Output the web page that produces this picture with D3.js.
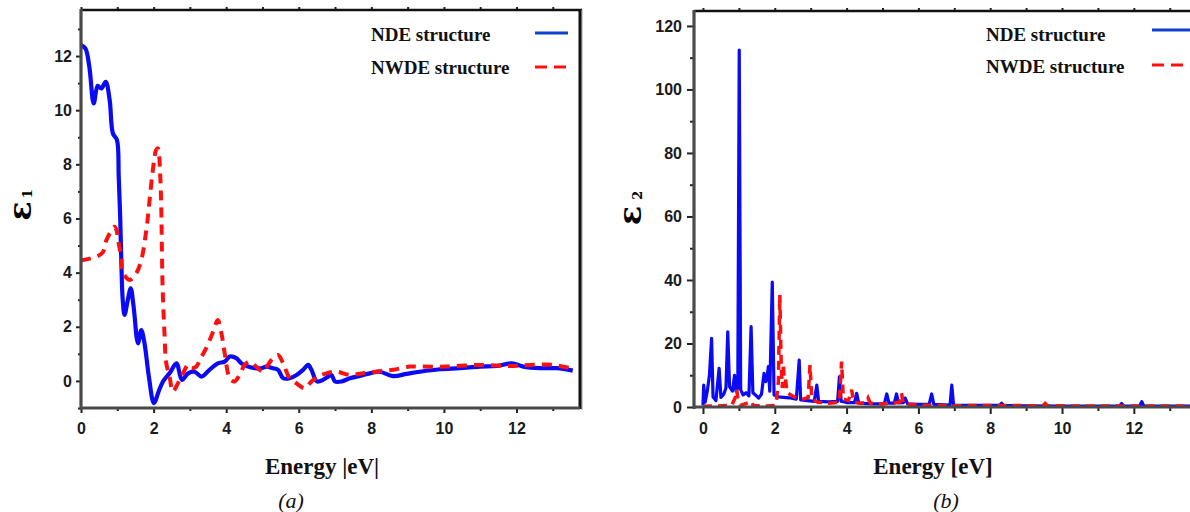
<!DOCTYPE html>
<html><head><meta charset="utf-8">
<script src="https://cdn.jsdelivr.net/npm/d3@7"></script>
<style>
html,body{margin:0;padding:0;background:#fff;}
svg{display:block;}
.tick text{font-family:"Liberation Sans",Arial,sans-serif;font-weight:bold;font-size:16px;fill:#1a1a1a;}
</style></head>
<body>
<svg id="c" width="1190" height="512"></svg>
<script>
// ---------- DATA ----------
// Panel (a): real part epsilon_1
const e1NdeEnergy = [0,0.12,0.23,0.35,0.46,0.56,0.68,0.79,0.88,0.99,1.04,1.08,1.11,1.15,1.2,1.29,1.37,1.45,1.57,1.66,1.75,1.87,2.01,2.14,2.26,2.44,2.63,2.78,2.95,3.13,3.32,3.54,3.77,3.96,4.1,4.28,4.42,4.6,4.79,4.97,5.11,5.29,5.43,5.57,5.75,5.94,6.12,6.26,6.35,6.5,6.67,6.81,6.9,7.0,7.18,7.41,7.68,7.96,8.23,8.6,8.97,9.34,9.89,10.44,10.99,11.45,11.87,12.19,12.65,13.11,13.55];
const e1Nde = [12.4,12.28,11.6,10.25,10.9,10.8,11.05,10.37,9.14,8.9,7.54,6.06,4.46,2.99,2.44,2.99,3.42,2.74,1.39,1.88,1.39,0.16,-0.82,-0.39,-0.02,0.28,0.65,0.04,0.28,0.34,0.16,0.41,0.65,0.71,0.9,0.84,0.65,0.53,0.47,0.47,0.53,0.47,0.41,0.1,0.1,0.22,0.41,0.59,0.41,-0.02,0.04,0.16,0.22,-0.02,-0.02,0.1,0.18,0.28,0.34,0.18,0.26,0.34,0.43,0.47,0.53,0.55,0.65,0.53,0.47,0.47,0.38];
const e1NwdeEnergy = [0,0.42,0.6,0.7,0.92,0.97,1.05,1.11,1.15,1.34,1.52,1.66,1.8,1.89,1.98,2.07,2.12,2.18,2.21,2.23,2.25,2.3,2.35,2.44,2.53,2.67,2.81,2.95,3.04,3.18,3.27,3.45,3.64,3.77,3.87,3.96,4.1,4.23,4.37,4.51,4.65,4.83,5.02,5.15,5.29,5.43,5.57,5.75,5.94,6.17,6.35,6.53,6.76,7.04,7.41,7.77,8.14,8.6,9.06,9.34,10.07,10.99,11.82,12.37,13.01,13.48];
const e1Nwde = [4.45,4.59,4.75,5.2,5.69,5.6,5.0,4.59,4.03,3.73,3.97,4.46,5.57,6.68,7.79,8.52,8.59,7.66,6.5,4.8,3.4,1.76,0.65,0.16,-0.39,-0.09,0.28,0.59,0.47,0.53,0.77,1.21,1.82,2.25,1.76,1.02,0.1,-0.02,0.22,0.59,0.71,0.53,0.34,0.59,0.84,0.96,0.65,0.1,-0.09,-0.27,-0.02,0.16,0.28,0.34,0.22,0.28,0.34,0.41,0.53,0.53,0.53,0.59,0.55,0.59,0.59,0.47];

// Panel (b): imaginary part epsilon_2
const e2NdeEnergy = [0,0.02,0.06,0.12,0.18,0.24,0.28,0.36,0.45,0.5,0.58,0.64,0.69,0.74,0.82,0.88,0.92,0.97,1.01,1.05,1.12,1.2,1.28,1.34,1.39,1.46,1.55,1.63,1.7,1.75,1.78,1.82,1.86,1.93,1.98,2.1,2.4,2.6,2.68,2.72,2.9,3.1,3.17,3.22,3.5,3.75,3.8,3.85,4.0,4.22,4.28,4.34,4.7,5.05,5.12,5.18,5.33,5.39,5.45,5.58,5.63,5.7,6.0,6.3,6.37,6.43,6.88,6.93,6.98,7.5,8.27,8.32,8.37,9.0,10.0,11.6,11.66,11.72,12.16,12.22,12.28,13.0,13.8];
const e2Nde = [0.5,6.9,1.5,5,10,21.6,3.2,2,12.2,3,4,6,23.7,6.4,5,10,5,6,112.4,5.4,3.8,4.5,3.5,25.3,4.5,3.8,2.8,4,10.6,8,9,12.7,5,39.3,3.8,3.2,2.9,2.5,14.8,2.2,2.0,1.8,6.9,1.8,1.6,1.8,9.5,1.8,1.4,1.4,4.3,1.2,1.0,1.0,4.1,1.2,1.2,4.1,1.3,1.4,2.8,1.0,0.8,0.9,4.1,0.8,0.6,6.9,0.6,0.5,0.6,1.2,0.5,0.4,0.3,0.3,1.1,0.3,0.3,1.7,0.3,0.3,0.3];
const e2NwdeEnergy = [0,0.3,0.8,0.9,0.94,0.98,1.05,1.3,1.35,1.4,1.8,2.0,2.05,2.1,2.14,2.18,2.21,2.24,2.27,2.3,2.34,2.45,2.6,2.8,2.93,2.98,3.03,3.2,3.5,3.8,3.86,3.91,4.05,4.14,4.2,4.4,4.55,4.6,4.66,5.0,5.3,5.48,5.53,5.58,6.0,7.0,8.0,9.47,9.53,9.6,11,13.8];
const e2Nwde = [0.2,0.3,0.5,3,5.4,2,0.5,1.5,1.8,0.5,0.3,0.5,2.5,8,35.3,12.7,6,13.6,6.1,8.8,4.5,3.8,2.8,2.5,3,13.2,2.5,1.5,1.2,1.5,14.3,2.5,2.0,5.4,1.5,1.2,1.5,2.8,1.2,1.0,1.2,1.5,4.3,1.0,0.6,0.4,0.5,0.4,1.1,0.4,0.3,0.3];

const seriesNames = ["NDE structure","NWDE structure"];
const leftMajorX = [0,2,4,6,8,10,12], leftMinorX = [1,3,5,7,9,11,13];
const leftMajorY = [0,2,4,6,8,10,12], leftMinorY = [-1,1,3,5,7,9,11,13];
const rightMajorX = [0,2,4,6,8,10,12], rightMinorX = [1,3,5,7,9,11,13];
const rightMajorY = [0,20,40,60,80,100,120], rightMinorY = [10,30,50,70,90,110];

// ---------- DRAW ----------
const svg = d3.select("#c");
const BLUE = "#0a0af5", RED = "#ff1010";

function panel(o){
  const g = svg.append("g");
  const x = d3.scaleLinear().domain(o.xd).range([o.L, o.R]);
  const y = d3.scaleLinear().domain(o.yd).range([o.B, o.T]);
  const cid = "clip"+o.id;
  svg.append("defs").append("clipPath").attr("id",cid)
    .append("rect").attr("x",o.L).attr("y",o.T).attr("width",o.R-o.L).attr("height",o.B-o.T);

  // top faint ticks
  g.append("g").attr("transform",`translate(0,${o.T})`)
    .call(d3.axisTop(x).tickValues(d3.range(0,14,1)).tickSize(3).tickFormat(""))
    .call(s=>s.select(".domain").remove())
    .call(s=>s.selectAll("line").attr("stroke","#bbb"));

  // curves
  const line = d3.line().x(d=>x(d[0])).y(d=>y(d[1])).curve(o.curve);
  const cg = g.append("g").attr("clip-path",`url(#${cid})`);
  cg.append("path").datum(d3.zip(o.x1,o.y1)).attr("d",line)
    .attr("fill","none").attr("stroke",BLUE).attr("stroke-width",o.w1).attr("stroke-linejoin","round");
  cg.append("path").datum(d3.zip(o.x2,o.y2)).attr("d",line)
    .attr("fill","none").attr("stroke",RED).attr("stroke-width",o.w2).attr("stroke-dasharray",o.dash);

  // axes
  const bx = g.append("g").attr("transform",`translate(0,${o.B})`);
  bx.call(d3.axisBottom(x).tickValues(o.mx).tickSize(o.maj).tickPadding(o.padX).tickFormat(d3.format("d")));
  bx.append("g").call(d3.axisBottom(x).tickValues(o.nx).tickSize(o.min).tickFormat(""));
  bx.selectAll(".domain").remove();
  const ly = g.append("g").attr("transform",`translate(${o.L},0)`);
  ly.call(d3.axisLeft(y).tickValues(o.my).tickSize(o.maj).tickPadding(o.padY).tickFormat(d3.format("d")));
  ly.append("g").call(d3.axisLeft(y).tickValues(o.ny).tickSize(o.min).tickFormat(""));
  ly.selectAll(".domain").remove();
  g.selectAll(".tick line").attr("stroke","#222").attr("stroke-width",2);

  // frame
  g.append("line").attr("x1",o.L).attr("x2",o.R+2).attr("y1",o.T).attr("y2",o.T).attr("stroke","#111").attr("stroke-width",2.5);
  if(o.rightBorder){
    g.append("line").attr("x1",o.R+2).attr("x2",o.R+2).attr("y1",o.T).attr("y2",o.B+2).attr("stroke","#ccc").attr("stroke-width",2);
    g.append("line").attr("x1",o.R).attr("x2",o.R).attr("y1",o.T-1).attr("y2",o.B+1).attr("stroke","#111").attr("stroke-width",3);
  }
  g.append("line").attr("x1",o.L).attr("x2",o.L).attr("y1",o.T-1).attr("y2",o.B+2).attr("stroke","#4a4a4a").attr("stroke-width",3.2);
  g.append("line").attr("x1",o.L-1).attr("x2",o.R).attr("y1",o.B).attr("y2",o.B).attr("stroke","#4a4a4a").attr("stroke-width",3.2);

  // legend
  const lg = g.append("g").attr("font-family","'Liberation Serif','Times New Roman',serif").attr("font-weight","bold").attr("font-size",19).attr("fill","#111");
  lg.append("text").attr("x",o.lgX).attr("y",o.lgY1+7).text(seriesNames[0]);
  lg.append("text").attr("x",o.lgX).attr("y",o.lgY2+7).text(seriesNames[1]);
  g.append("line").attr("x1",o.lsX1).attr("x2",o.lsX2).attr("y1",o.lsY1).attr("y2",o.lsY1).attr("stroke","#1040d0").attr("stroke-width",3);
  g.append("line").attr("x1",o.lsX1).attr("x2",o.lsX2).attr("y1",o.lsY2).attr("y2",o.lsY2).attr("stroke",RED).attr("stroke-width",3).attr("stroke-dasharray","12,7");

  // y-axis title (rotated epsilon with subscript)
  const yt = svg.append("text").attr("transform",`translate(${o.ytX},${o.ytY}) rotate(-90)`)
    .attr("font-family","'DejaVu Serif','Liberation Serif',serif").attr("font-weight","bold").attr("font-size",32).attr("fill","#000")
    .attr("text-anchor","middle").attr("dominant-baseline","middle");
  yt.append("tspan").text("ε");
  yt.append("tspan").attr("font-size",13).attr("dy",o.subDy).attr("dx",o.subDx).text(o.sub);

  // x-axis title and panel label
  svg.append("text").attr("x",o.xtX).attr("y",474).attr("text-anchor","middle")
    .attr("font-family","'Liberation Serif','Times New Roman',serif").attr("font-weight","bold").attr("font-size",23).attr("fill","#111").text(o.xTitle);
  svg.append("text").attr("x",o.plX).attr("y",508).attr("text-anchor","middle")
    .attr("font-family","'Liberation Serif','Times New Roman',serif").attr("font-style","italic").attr("font-size",22).attr("fill","#111").text(o.pl);
}

panel({id:"a", L:81, R:580, T:10, B:408, xd:[0,13.75], yd:[-1,13.7],
  x1:e1NdeEnergy, y1:e1Nde, x2:e1NwdeEnergy, y2:e1Nwde, curve:d3.curveCatmullRom.alpha(0.5),
  w1:4.2, w2:4, dash:"10,7",
  mx:leftMajorX, nx:leftMinorX, my:leftMajorY, ny:leftMinorY, maj:5, min:3, padX:10, padY:4,
  rightBorder:true,
  lgX:371, lgY1:34, lgY2:67, lsX1:535, lsX2:568, lsY1:33, lsY2:67,
  ytX:22, ytY:205, sub:"1", subDy:6, subDx:3,
  xTitle:"Energy |eV|", xtX:322, pl:"(a)", plX:291});

panel({id:"b", L:694, R:1192, T:11, B:407, xd:[-0.25,13.62], yd:[0,124.7],
  x1:e2NdeEnergy, y1:e2Nde, x2:e2NwdeEnergy, y2:e2Nwde, curve:d3.curveLinear,
  w1:3.2, w2:3.5, dash:"9,6",
  mx:rightMajorX, nx:rightMinorX, my:rightMajorY, ny:rightMinorY, maj:7, min:4, padX:9, padY:5,
  rightBorder:false,
  lgX:986, lgY1:34, lgY2:66, lsX1:1152, lsX2:1192, lsY1:30, lsY2:65,
  ytX:632, ytY:208, sub:"2", subDy:6, subDx:6,
  xTitle:"Energy [eV]", xtX:933, pl:"(b)", plX:946});
</script>
</body></html>
